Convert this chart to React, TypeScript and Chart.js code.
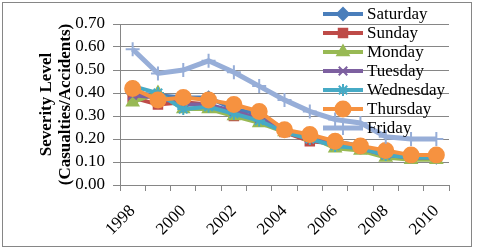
import React, { useEffect, useRef } from 'react';
import { Chart, registerables } from 'chart.js';
import { drawPoint } from 'chart.js/helpers';

Chart.register(...registerables);

const years = ['1998', '1999', '2000', '2001', '2002', '2003', '2004', '2005', '2006', '2007', '2008', '2009', '2010'];

const saturday = [0.40, 0.39, 0.38, 0.38, 0.33, 0.31, 0.24, 0.21, 0.19, 0.17, 0.14, 0.13, 0.12];
const sunday = [0.38, 0.35, 0.36, 0.35, 0.30, 0.29, 0.23, 0.19, 0.18, 0.16, 0.13, 0.12, 0.12];
const monday = [0.36, 0.40, 0.33, 0.33, 0.30, 0.27, 0.23, 0.21, 0.16, 0.15, 0.12, 0.11, 0.11];
const tuesday = [0.39, 0.38, 0.35, 0.35, 0.32, 0.29, 0.24, 0.20, 0.18, 0.16, 0.13, 0.12, 0.12];
const wednesday = [0.43, 0.40, 0.33, 0.34, 0.31, 0.28, 0.23, 0.20, 0.17, 0.16, 0.13, 0.12, 0.12];
const thursday = [0.42, 0.37, 0.38, 0.37, 0.35, 0.32, 0.24, 0.22, 0.19, 0.17, 0.15, 0.13, 0.13];
const friday = [0.59, 0.485, 0.50, 0.54, 0.49, 0.43, 0.37, 0.32, 0.285, 0.27, 0.21, 0.20, 0.20];

const seriesNames = ['Saturday', 'Sunday', 'Monday', 'Tuesday', 'Wednesday', 'Thursday', 'Friday'];
const seriesValues = [saturday, sunday, monday, tuesday, wednesday, thursday, friday];
const seriesColors = ['#4A7EBB', '#BE4B48', '#98B954', '#7D60A0', '#46AAC5', '#F69240', '#97AED8'];
const seriesMarkers = ['rectRot', 'rect', 'triangle', 'crossRot', 'star', 'circle', 'cross'];
const markerSizes = [6, 6, 6.5, 6, 6, 7.5, 7];
const lineWidths = [4, 4, 4, 4, 4, 4, 5];

const yTitle = ['Severity Level', '(Casualties/Accidents)'];

const FONT = '"Liberation Serif", "Times New Roman", serif';

const frameAndLegend = {
  id: 'frameAndLegend',
  beforeDraw(chart: any) {
    const ctx = chart.ctx;
    ctx.save();
    ctx.fillStyle = '#ffffff';
    ctx.fillRect(0, 0, chart.width, chart.height);
    ctx.strokeStyle = '#868686';
    ctx.lineWidth = 1;
    ctx.strokeRect(2.5, 2.5, 469, 244);
    ctx.restore();
  },
  afterDraw(chart: any) {
    const ctx = chart.ctx;
    const right = chart.chartArea.right;
    ctx.save();
    chart.data.datasets.forEach((ds: any, i: number) => {
      const y = 14 + i * 19;
      const x1 = right - 126;
      const x2 = right - 86;
      ctx.strokeStyle = ds.borderColor;
      ctx.lineWidth = ds.borderWidth;
      ctx.beginPath();
      ctx.moveTo(x1, y);
      ctx.lineTo(x2, y);
      ctx.stroke();
      ctx.fillStyle = ds.pointBackgroundColor;
      ctx.strokeStyle = ds.pointBorderColor;
      ctx.lineWidth = ds.pointBorderWidth;
      drawPoint(ctx, { pointStyle: ds.pointStyle, radius: ds.pointRadius, rotation: 0, borderWidth: ds.pointBorderWidth } as any, (x1 + x2) / 2, y);
      ctx.fillStyle = '#000000';
      ctx.font = '17px ' + FONT;
      ctx.textBaseline = 'middle';
      ctx.textAlign = 'left';
      ctx.fillText(ds.label, x2 + 4, y + 1);
    });
    ctx.restore();
  },
};

export default function App() {
  const ref = useRef<HTMLCanvasElement>(null);
  useEffect(() => {
    document.body.style.margin = '0';
    const canvas = ref.current!;
    const chart = new Chart(canvas, {
      type: 'line',
      data: {
        labels: years,
        datasets: seriesNames.map((name, i) => ({
          label: name,
          data: seriesValues[i],
          borderColor: seriesColors[i],
          backgroundColor: seriesColors[i],
          pointBackgroundColor: seriesColors[i],
          pointBorderColor: seriesColors[i],
          pointBorderWidth: 2,
          borderWidth: lineWidths[i],
          pointStyle: seriesMarkers[i] as any,
          pointRadius: markerSizes[i],
          pointHoverRadius: markerSizes[i],
          tension: 0,
          fill: false,
          order: seriesNames.length - i,
        })),
      },
      options: {
        animation: false,
        responsive: false,
        events: [],
        layout: { padding: { top: 24, right: 29, left: 0, bottom: 0 } },
        plugins: {
          legend: { display: false },
          tooltip: { enabled: false },
          title: { display: false },
        },
        scales: {
          x: {
            type: 'category',
            offset: true,
            grid: { display: true, drawOnChartArea: false, drawTicks: true, tickLength: 6, offset: true, color: '#868686' },
            border: { display: true, color: '#868686', width: 1 },
            ticks: {
              autoSkip: false,
              minRotation: 45,
              maxRotation: 45,
              padding: 10,
              color: '#000000',
              font: { family: FONT, size: 17 },
              callback: (_v: any, idx: number) => (idx % 2 === 0 ? years[idx] : ''),
            },
            afterFit: (scale: any) => {
              scale.height = 65;
            },
          },
          y: {
            type: 'linear',
            min: 0,
            max: 0.7,
            grid: { color: '#868686', tickLength: 7, drawTicks: true },
            border: { display: true, color: '#868686', width: 1 },
            ticks: {
              stepSize: 0.1,
              autoSkip: false,
              padding: 8,
              color: '#000000',
              font: { family: FONT, size: 17 },
              callback: (v: any) => Number(v).toFixed(2),
            },
            title: {
              display: true,
              text: yTitle,
              color: '#000000',
              font: { family: FONT, size: 17, weight: 'bold', lineHeight: 1.12 },
              padding: { top: 37, bottom: 0 },
            },
            afterFit: (scale: any) => {
              scale.width = 120;
            },
          },
        },
      },
      plugins: [frameAndLegend],
    });
    return () => chart.destroy();
  }, []);
  return (
    <div style={{ width: 478, height: 250 }}>
      <canvas ref={ref} width={478} height={250} />
    </div>
  );
}
